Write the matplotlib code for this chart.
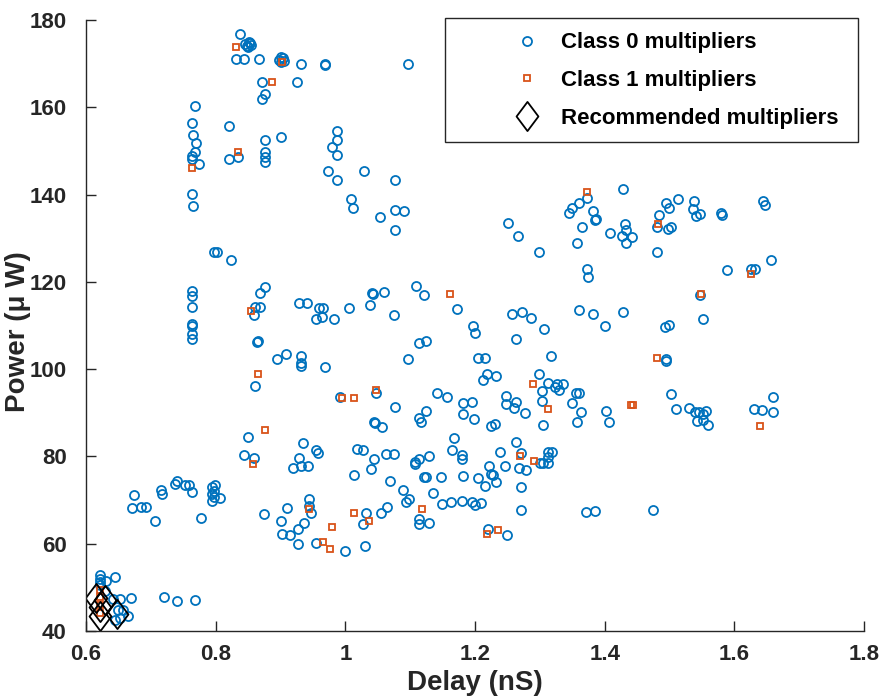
import matplotlib.pyplot as plt
from matplotlib.path import Path
from matplotlib.patches import Rectangle
import numpy as np

plt.rcParams['font.family'] = ['Liberation Sans', 'DejaVu Sans']
plt.rcParams['font.weight'] = 'bold'

C_BLUE = '#0072BD'
C_ORANGE = '#D95319'
C_AXIS = '#262626'

# class 0 multipliers (delay nS, power uW)
class0_x = [
    0.768, 0.764, 0.765, 0.770, 0.768, 0.764, 0.764, 0.774, 0.764, 0.765,
    0.821, 0.821, 0.835, 0.838, 0.845, 0.848, 0.851, 0.855, 0.850, 0.853,
    0.831, 0.844, 0.867, 0.872, 0.876, 0.872, 0.876, 0.876, 0.876, 0.876,
    0.900, 0.898, 0.904, 0.900, 0.905, 0.932, 0.968, 0.969, 1.097,
    0.926, 0.900, 0.987, 0.987, 0.980, 0.987, 0.974, 1.029, 0.987, 1.076,
    1.009, 1.012, 1.054, 1.076, 1.090, 1.076,
    0.797, 0.802, 0.823,
    0.764, 0.764, 0.764, 0.764, 0.764, 0.764, 0.764,
    0.876, 0.869, 0.868, 0.860, 0.859, 0.866, 0.864, 0.860,
    0.928, 0.941, 0.959, 0.965, 0.955, 0.964, 0.983, 1.005, 1.041, 1.043,
    1.060, 1.038, 1.075, 1.109, 1.121, 1.173,
    0.895, 0.908, 0.932, 0.932, 0.932, 0.968, 1.097, 1.113, 1.124,
    0.992, 1.048, 1.076, 1.141, 1.157, 1.181, 1.181, 1.124, 1.113, 1.116,
    1.044, 1.046, 1.057,
    1.251, 1.266, 1.299, 1.365, 1.385, 1.358, 1.408, 1.432, 1.433, 1.426,
    1.442, 1.433, 1.480, 1.480, 1.372, 1.375, 1.257, 1.272, 1.286, 1.197,
    1.200, 1.306, 1.264, 1.361, 1.382, 1.429, 1.400, 1.205, 1.215, 1.317,
    1.218, 1.232, 1.213, 1.298, 1.312, 1.327, 1.324, 1.330, 1.336, 1.303,
    1.356, 1.361, 1.248, 1.349, 1.303, 1.196, 1.248, 1.260, 1.263, 1.277,
    1.363, 1.402, 1.199, 1.224, 1.231, 1.305, 1.357, 1.406,
    1.497, 1.503, 1.588, 1.625, 1.632, 1.656, 1.547, 1.552, 1.493, 1.499,
    1.495, 1.495, 1.503, 1.510, 1.530, 1.539, 1.545, 1.557, 1.551, 1.543,
    1.551, 1.559, 1.630, 1.642, 1.660, 1.660,
    1.373, 1.360, 1.349, 1.345, 1.382, 1.386, 1.429, 1.495, 1.499, 1.513,
    1.538, 1.537, 1.541, 1.547, 1.579, 1.581, 1.644, 1.647, 1.484,
    0.850, 0.844, 0.859, 0.875, 0.674, 0.671, 0.685, 0.692, 0.707, 0.715,
    0.717, 0.737, 0.741, 0.752, 0.759, 0.764, 0.778, 0.795, 0.799, 0.797,
    0.794, 0.794, 0.806, 0.797,
    0.622, 0.622, 0.622, 0.622, 0.631, 0.644, 0.630, 0.669, 0.720, 0.741,
    0.768, 0.652, 0.642, 0.649, 0.657, 0.644, 0.665, 0.652,
    0.934, 0.955, 0.958, 0.929, 0.919, 0.932, 0.942, 1.018, 1.027, 1.044,
    1.040, 1.014, 1.063, 1.075, 1.069, 1.107, 1.107, 1.113, 1.129, 1.089,
    1.093, 1.098, 1.121, 1.124, 1.148, 1.135, 1.167, 1.165, 1.180, 1.180,
    1.182, 1.149, 1.163, 1.180, 0.910, 0.900, 0.903, 0.915, 0.927, 0.936,
    0.927, 0.944, 0.944, 0.947, 0.954, 0.999, 1.030, 1.032, 1.027, 1.055,
    1.064, 1.113, 1.113, 1.129,
    1.263, 1.239, 1.271, 1.300, 1.305, 1.312, 1.319, 1.313, 1.312, 1.221,
    1.246, 1.268, 1.279, 1.225, 1.227, 1.204, 1.215, 1.233, 1.271, 1.196,
    1.200, 1.210, 1.271, 1.371, 1.385, 1.475, 1.220, 1.249,
]
class0_y = [
    160.3, 156.4, 153.6, 151.8, 149.7, 148.9, 148.1, 146.9, 140.1, 137.4,
    155.8, 148.1, 148.5, 176.9, 174.5, 174.0, 175.0, 174.3, 173.8, 174.8,
    171.0, 171.0, 171.0, 165.7, 163.0, 162.0, 152.6, 149.7, 148.6, 147.5,
    171.6, 170.8, 171.2, 170.3, 170.6, 170.0, 170.0, 169.8, 169.9,
    165.8, 153.3, 154.5, 152.6, 150.9, 149.0, 145.5, 145.5, 143.4, 143.4,
    139.0, 137.0, 134.8, 136.4, 136.3, 131.9,
    126.8, 126.9, 125.0,
    117.9, 116.7, 114.2, 110.3, 109.8, 108.0, 106.8,
    118.9, 117.5, 114.3, 114.2, 112.4, 106.5, 106.3, 96.2,
    115.2, 115.1, 113.9, 114.1, 111.5, 112.0, 111.5, 114.0, 117.5, 117.2,
    117.7, 114.7, 112.5, 119.0, 117.0, 113.7,
    102.3, 103.5, 103.0, 101.3, 100.8, 100.5, 102.4, 106.0, 106.4,
    93.7, 94.5, 91.3, 94.6, 93.7, 92.2, 89.7, 90.3, 88.9, 88.0,
    88.0, 87.7, 86.8,
    133.5, 130.5, 126.8, 132.6, 134.2, 129.0, 131.3, 133.2, 131.9, 130.5,
    130.2, 128.8, 126.8, 132.6, 122.9, 121.2, 112.6, 113.0, 111.8, 109.9,
    108.2, 109.2, 106.9, 113.5, 112.6, 113.2, 109.9, 102.5, 102.5, 103.0,
    99.0, 98.4, 97.5, 98.9, 96.8, 96.7, 96.0, 95.2, 96.5, 95.0,
    94.5, 94.5, 93.8, 92.3, 92.6, 92.5, 91.9, 91.0, 92.5, 89.9,
    90.2, 90.4, 88.6, 87.0, 87.4, 87.2, 87.9, 87.9,
    132.0, 132.5, 122.8, 122.9, 122.9, 125.1, 117.0, 111.5, 109.7, 110.1,
    102.3, 101.9, 94.3, 90.9, 91.2, 90.1, 90.1, 90.5, 89.7, 88.1,
    88.4, 87.3, 90.9, 90.6, 93.7, 90.2,
    139.3, 138.0, 137.0, 135.8, 136.2, 134.5, 141.3, 138.1, 137.0, 139.0,
    138.6, 136.8, 135.1, 135.5, 135.7, 135.4, 138.6, 137.6, 135.3,
    84.4, 80.3, 79.7, 66.9, 71.2, 68.1, 68.3, 68.5, 65.1, 72.3,
    71.3, 73.7, 74.4, 73.4, 73.4, 71.8, 66.0, 72.9, 73.4, 72.1,
    71.5, 69.8, 70.5, 70.8,
    52.8, 51.9, 51.3, 50.5, 51.5, 52.3, 49.2, 47.5, 47.7, 46.9,
    47.1, 47.4, 47.3, 44.8, 44.8, 42.5, 43.5, 42.9,
    83.1, 81.5, 80.9, 79.6, 77.4, 77.9, 77.7, 81.7, 81.5, 79.5,
    77.1, 75.7, 80.5, 80.6, 74.4, 78.8, 78.2, 79.5, 80.0, 72.3,
    69.6, 70.2, 75.2, 75.2, 75.2, 71.7, 84.3, 81.5, 80.3, 79.5,
    75.6, 69.1, 69.6, 69.9, 68.1, 65.2, 62.2, 62.0, 59.9, 64.7,
    63.4, 70.2, 68.6, 67.1, 60.1, 58.4, 59.5, 67.1, 64.6, 67.1,
    68.5, 65.7, 64.6, 64.7,
    83.2, 81.1, 80.7, 78.6, 78.6, 81.1, 81.1, 79.9, 78.4, 77.9,
    77.7, 77.4, 77.0, 75.9, 75.7, 75.1, 73.3, 74.1, 73.1, 69.6,
    68.9, 69.4, 67.8, 67.3, 67.5, 67.8, 63.4, 62.0,
]

# class 1 multipliers
class1_x = [0.764, 0.835, 0.832, 0.902, 0.887, 0.854, 0.865, 0.876, 0.858, 0.995,
            1.014, 1.047, 1.162, 1.290, 1.313, 1.441, 1.443, 1.481, 1.482, 1.372,
            1.549, 1.626, 1.639, 1.270, 1.291, 1.219, 1.236, 0.944, 0.966, 0.976,
            0.979, 1.014, 1.036, 1.119, 0.622, 0.622, 0.622, 0.622]
class1_y = [146.2, 149.7, 173.9, 170.4, 165.7, 113.4, 98.8, 86.0, 78.2, 93.5,
            93.5, 95.2, 117.2, 96.5, 90.8, 91.7, 91.7, 102.6, 133.2, 140.5,
            117.3, 121.8, 87.0, 80.0, 79.0, 62.3, 63.1, 67.9, 60.3, 58.9,
            63.8, 67.1, 65.3, 67.9, 49.4, 47.9, 46.0, 44.1]

# recommended multipliers
rec_x = [0.615, 0.622, 0.622, 0.648, 0.630]
rec_y = [47.5, 45.5, 43.5, 44.0, 47.0]

# MATLAB-like diamond (narrower than a rotated square)
diamond = Path([(0, 1), (0.75, 0), (0, -1), (-0.75, 0), (0, 1)],
               [Path.MOVETO, Path.LINETO, Path.LINETO, Path.LINETO, Path.CLOSEPOLY])

fig = plt.figure(figsize=(8.83, 7.0), dpi=100, facecolor='white')
ax = fig.add_axes([86 / 883, 69 / 700, 778 / 883, 611 / 700])

ax.plot(class0_x, class0_y, linestyle='none', marker='o', markersize=6.5,
        markerfacecolor='none', markeredgecolor=C_BLUE, markeredgewidth=1.3,
        label='Class 0 multipliers')
ax.plot(class1_x, class1_y, linestyle='none', marker='s', markersize=5,
        markerfacecolor='none', markeredgecolor=C_ORANGE, markeredgewidth=1.3,
        label='Class 1 multipliers')
ax.plot(rec_x, rec_y, linestyle='none', marker=diamond, markersize=21,
        markerfacecolor='none', markeredgecolor='black', markeredgewidth=1.3,
        label='Recommended multipliers')

ax.set_xlim(0.6, 1.8)
ax.set_ylim(40, 180)
ax.set_xticks([0.6, 0.8, 1.0, 1.2, 1.4, 1.6, 1.8])
ax.set_xticklabels(['0.6', '0.8', '1', '1.2', '1.4', '1.6', '1.8'])
ax.set_yticks(np.arange(40, 181, 20))

for s in ['top', 'right']:
    ax.spines[s].set_visible(False)
for s in ['left', 'bottom']:
    ax.spines[s].set_color(C_AXIS)
    ax.spines[s].set_linewidth(1.0)
ax.tick_params(direction='in', length=7, width=1, colors=C_AXIS,
               labelsize=16, labelcolor=C_AXIS)
ax.tick_params(axis='x', pad=9)
ax.tick_params(axis='y', pad=14)
for lbl in ax.get_xticklabels() + ax.get_yticklabels():
    lbl.set_fontweight('bold')

ax.set_xlabel('Delay (nS)', fontsize=20, fontweight='bold', color=C_AXIS, va='center')
ax.xaxis.set_label_coords(0.5, (631 - 683) / 611)
ax.set_ylabel('Power (μ W)', fontsize=20, fontweight='bold', color=C_AXIS, va='center')
ax.yaxis.set_label_coords((18 - 86) / 778, 0.49)

# legend box drawn by hand so the padding matches the reference
ax.add_patch(Rectangle((445 / 883, 1 - 142 / 700), 413 / 883, 124 / 700,
                       transform=fig.transFigure, clip_on=False, zorder=4.5,
                       facecolor='white', edgecolor=C_AXIS, linewidth=1.0))
leg = ax.legend(loc='center left', bbox_to_anchor=(505 / 883, 1 - 80.5 / 700),
                bbox_transform=fig.transFigure, borderaxespad=0, borderpad=0,
                frameon=False, labelspacing=0.75, handlelength=2.0,
                handletextpad=0.5, prop={'weight': 'bold', 'size': 16})

fig.savefig('out.png', dpi=100, facecolor='white')
